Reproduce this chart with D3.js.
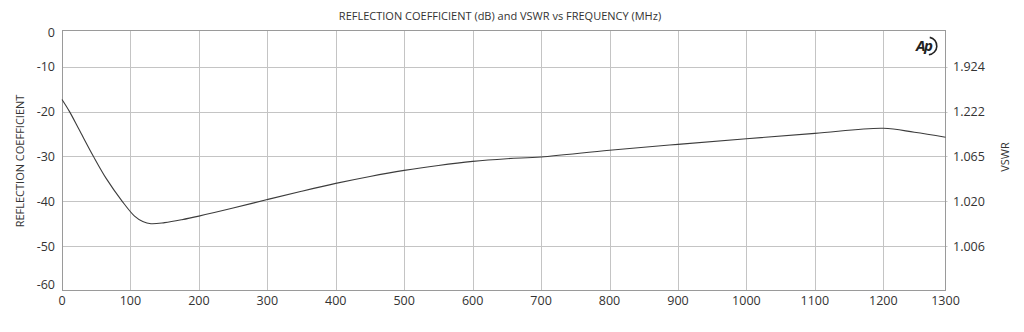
<!DOCTYPE html>
<html><head><meta charset="utf-8">
<script src="https://cdn.jsdelivr.net/npm/d3@7"></script>
<style>body{margin:0;background:#fff}svg{display:block;font-family:"Open Sans",sans-serif}</style>
</head><body>
<svg id="c" width="1024" height="332"></svg>
<script>
const freq = [0,11,25,46,65,88,106,118,130,150,175,200,250,300,350,400,450,500,550,600,650,700,800,900,1000,1100,1200,1250,1300];
const refl = [-17.3,-20,-24.0,-30,-35,-40,-43.3,-44.5,-45.0,-44.75,-44.1,-43.3,-41.5,-39.6,-37.75,-36.0,-34.45,-33.1,-32.0,-31.1,-30.5,-30.1,-28.6,-27.3,-26.05,-24.85,-23.7,-24.6,-25.7];
const xTicks = [0,100,200,300,400,500,600,700,800,900,1000,1100,1200,1300];
const yTicks = [0,-10,-20,-30,-40,-50,-60];
const vswrTicks = [-10,-20,-30,-40,-50];
const vswrLabels = ["1.924","1.222","1.065","1.020","1.006"];
const title = "REFLECTION COEFFICIENT (dB) and VSWR vs FREQUENCY (MHz)";

const svg = d3.select("#c");
const L=62, R=945.5, T=30, B=290.5;
const x = d3.scaleLinear().domain([0,1200,1300]).range([L,883.3,R]);
const y = d3.scaleLinear().domain([-60,-10,0]).range([291,66.8,T]);

// grid
const g = svg.append("g");
g.selectAll(".vx").data(xTicks.slice(1,-1)).join("line")
  .attr("x1",d=>Math.round(x(d))+0.5).attr("x2",d=>Math.round(x(d))+0.5)
  .attr("y1",T).attr("y2",B).attr("stroke","#c4c4c4").attr("stroke-width",1);
g.selectAll(".hy").data(yTicks.slice(1,-1)).join("line")
  .attr("y1",d=>Math.round(y(d))+0.5).attr("y2",d=>Math.round(y(d))+0.5)
  .attr("x1",L).attr("x2",R+2).attr("stroke","#c4c4c4").attr("stroke-width",1);
// frame
svg.append("rect").attr("x",L+0.5).attr("y",T+0.5).attr("width",R-L-0.5).attr("height",B-T-0.5)
  .attr("fill","none").attr("stroke","#9a9a9a").attr("stroke-width",1);

// axes labels
const tc = "#333";
svg.append("g").selectAll("text").data(yTicks).join("text")
  .attr("x",55).attr("y",d=> d===0? y(d)+3 : (d===-60? y(d)-6 : y(d)))
  .attr("dy","0.35em").attr("text-anchor","end").attr("font-size",12.5).attr("fill",tc)
  .text(d=>d);
svg.append("g").selectAll("text").data(xTicks).join("text")
  .attr("x",d=>x(d)).attr("y",301).attr("dy","0.35em").attr("text-anchor","middle")
  .attr("font-size",12.5).attr("fill",tc).text(d=>d);
svg.append("g").selectAll("text").data(vswrTicks).join("text")
  .attr("x",953).attr("y",d=>y(d)).attr("dy","0.35em").attr("text-anchor","start")
  .attr("font-size",12.5).attr("fill",tc).text((d,i)=>vswrLabels[i]);

svg.append("text").attr("x",500).attr("y",16).attr("dy","0.35em").attr("text-anchor","middle")
  .attr("font-size",11).attr("fill",tc).text(title);
svg.append("text").attr("transform","translate(20,161) rotate(-90)").attr("dy","0.35em")
  .attr("text-anchor","middle").attr("font-size",11).attr("fill",tc).text("REFLECTION COEFFICIENT");
svg.append("text").attr("transform","translate(1005,157) rotate(-90)").attr("dy","0.35em")
  .attr("text-anchor","middle").attr("font-size",11).attr("fill",tc).text("VSWR");

// curve
const line = d3.line().x((d,i)=>x(freq[i])).y((d,i)=>y(refl[i])).curve(d3.curveCatmullRom.alpha(0.5));
svg.append("path").datum(refl).attr("d",line).attr("fill","none").attr("stroke","#3c3c3c").attr("stroke-width",1.1);

// logo
const lg = svg.append("g").attr("transform","translate(924,46)");
lg.append("text").attr("x",-8).attr("y",5).attr("font-size",15).attr("font-style","italic")
  .attr("font-weight","bold").attr("fill","#222").attr("letter-spacing",-1.5).text("Ap");
lg.append("path").attr("d",d3.arc()({innerRadius:8,outerRadius:9.6,startAngle:0.2,endAngle:Math.PI-0.1}))
  .attr("transform","translate(4,0)").attr("fill","#222");
</script>
</body></html>
